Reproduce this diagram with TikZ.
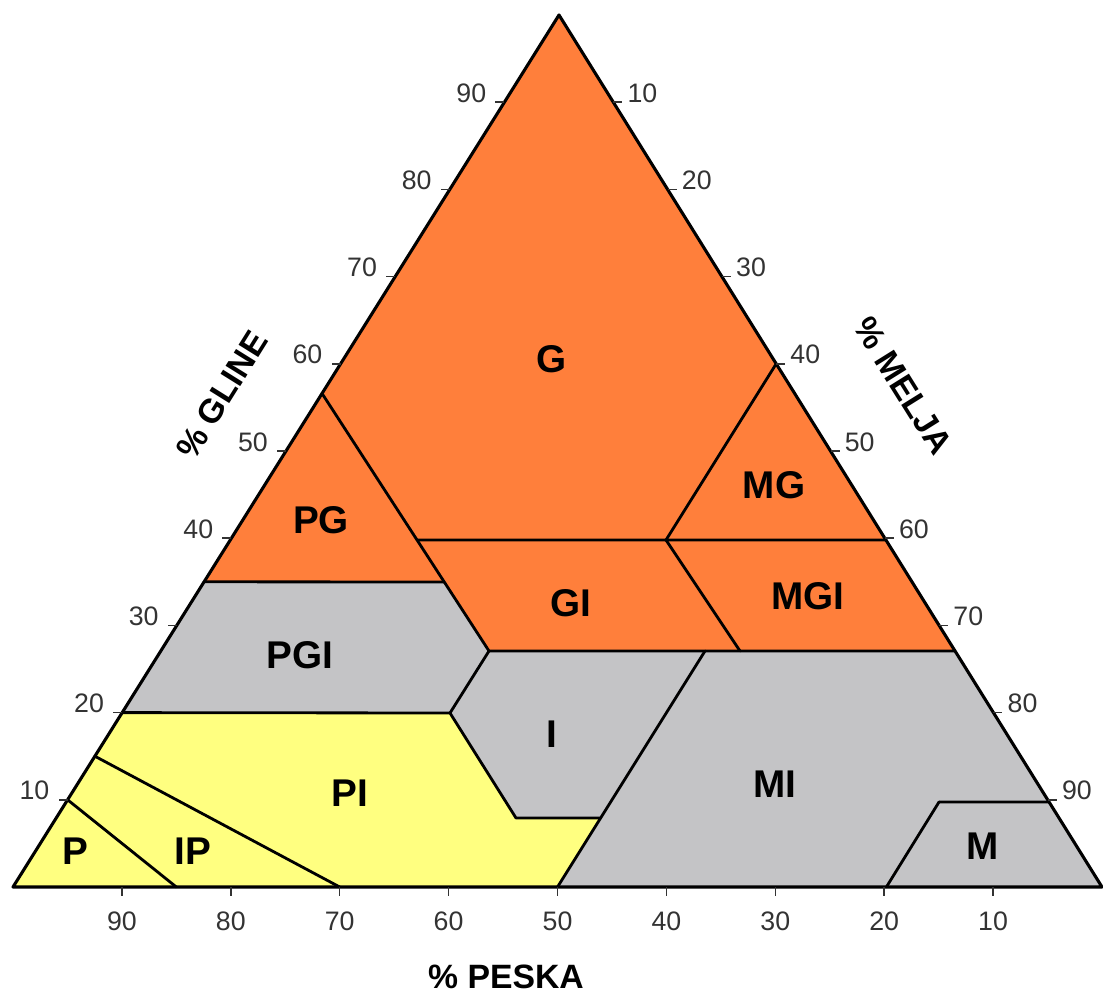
\documentclass[tikz,border=0pt]{standalone}
\usepackage{fontspec}
\setmainfont{Liberation Sans}
\usetikzlibrary{calc}
\definecolor{org}{HTML}{FF7F3B}
\definecolor{yel}{HTML}{FFFF80}
\definecolor{gry}{HTML}{C4C4C6}
\definecolor{txtg}{HTML}{333333}
\tikzset{
  bound/.style={line width=2pt, black, line join=round, line cap=round},
  outline/.style={line width=2.2pt, black, line join=round},
  tickmark/.style={line width=1.1pt, txtg},
  ticklab/.style={font=\fontsize{19}{22}\selectfont, text=txtg, inner sep=0pt},
  reglab/.style={font=\fontsize{27.5}{30}\selectfont\bfseries, inner sep=0pt},
  axlab/.style={font=\fontsize{24}{28}\selectfont\bfseries, inner sep=0pt}
}
\begin{document}
\begin{tikzpicture}[x=0.025cm,y=-0.025cm]
\useasboundingbox (0,0) rectangle (1103,997);
% vertices
\coordinate (A) at (13,887);
\coordinate (B) at (1102,887);
\coordinate (C) at (559,15);
% left edge points
\coordinate (L10) at ($(A)!0.10!(C)$);
\coordinate (L15) at ($(A)!0.15!(C)$);
\coordinate (L20) at ($(A)!0.20!(C)$);
\coordinate (L35) at ($(A)!0.35!(C)$);
\coordinate (L56) at ($(A)!0.566!(C)$);
% right edge points
\coordinate (R12) at ($(B)!0.0975!(C)$);
\coordinate (E27) at ($(B)!0.2706!(C)$);
\coordinate (R40) at ($(B)!0.398!(C)$);
\coordinate (R60) at ($(B)!0.60!(C)$);
% bottom points
\coordinate (S85) at ($(A)!0.15!(B)$);
\coordinate (S70) at ($(A)!0.30!(B)$);
\coordinate (S50) at ($(A)!0.50!(B)$);
\coordinate (M0) at ($(A)!0.802!(B)$);
% interior points
\coordinate (P1) at (489,651);
\coordinate (I1) at (450,713);
\coordinate (I2) at (516,818);
\coordinate (I3) at (600,818);
\coordinate (W) at (705,651);
\coordinate (Q35) at (444,582);
\coordinate (Q40) at (417,540);
\coordinate (M40) at (666,540);
\coordinate (G20) at (740,651);
\coordinate (M12) at (939,802);
% fills
\fill[gry] (A) -- (B) -- (C) -- cycle;
\fill[org] (L35) -- (C) -- (E27) -- (P1) -- (Q35) -- cycle;
\fill[yel] (A) -- (L20) -- (I1) -- (I2) -- (I3) -- (S50) -- cycle;
% boundaries
\draw[bound] (L10) -- (S85);
\draw[bound] (L15) -- (S70);
\draw[bound] (L20) -- (I1) -- (I2) -- (I3);
\draw[bound] (S50) -- (W);
\draw[bound] (I1) -- (P1);
\draw[bound] (L56) -- (P1) -- (E27);
\draw[bound] (L35) -- (Q35);
\draw[bound] (Q40) -- (R40);
\draw[bound] (M40) -- (R60);
\draw[bound] (M40) -- (G20);
\draw[bound] (M12) -- (R12);
\draw[bound] (M12) -- (M0);
\draw[outline] (A) -- (B) -- (C) -- cycle;
% ticks left (clay)
\foreach \i in {1,...,9} {
  \coordinate (tl) at ($(A)!\i/10!(C)$);
  \draw[tickmark] (tl) -- ++(-9,0);
  \node[ticklab, anchor=base east] at ($(tl)+(-18,0)$) {\i0};
}
% ticks right (silt)
\foreach \i/\v in {1/90,2/80,3/70,4/60,5/50,6/40,7/30,8/20,9/10} {
  \coordinate (tr) at ($(B)!\i/10!(C)$);
  \draw[tickmark] (tr) -- ++(9,0);
  \node[ticklab, anchor=base west] at ($(tr)+(14,0)$) {\v};
}
% ticks bottom (sand)
\foreach \i/\v in {1/90,2/80,3/70,4/60,5/50,6/40,7/30,8/20,9/10} {
  \coordinate (tb) at ($(A)!\i/10!(B)$);
  \draw[tickmark] (tb) -- ++(0,9);
  \node[ticklab, anchor=base] at ($(tb)+(0,43)$) {\v};
}
% region labels
\node[reglab] (g) at (552,359) {G};
\node[reglab] (pg) at (321,520) {PG};
\node[reglab] (gi) at (571,603) {GI};
\node[reglab] (mg) at (774,485) {MG};
\node[reglab] (mgi) at (808,596) {MGI};
\node[reglab] (pgi) at (300,655) {PGI};
\node[reglab] (i) at (552,734) {I};
\node[reglab] (pi) at (350,793) {PI};
\node[reglab] (mi) at (775,784) {MI};
\node[reglab] (p) at (75,851) {P};
\node[reglab] (ip) at (193,851) {IP};
\node[reglab] (m) at (983,846) {M};
% axis titles
\node[axlab, rotate=58] (ax1) at (222,395) {\% GLINE};
\node[axlab, rotate=-58] (ax2) at (903,386) {\% MELJA};
\node[axlab] (ax3) at (506,977) {\% PESKA};
\end{tikzpicture}
\end{document}
